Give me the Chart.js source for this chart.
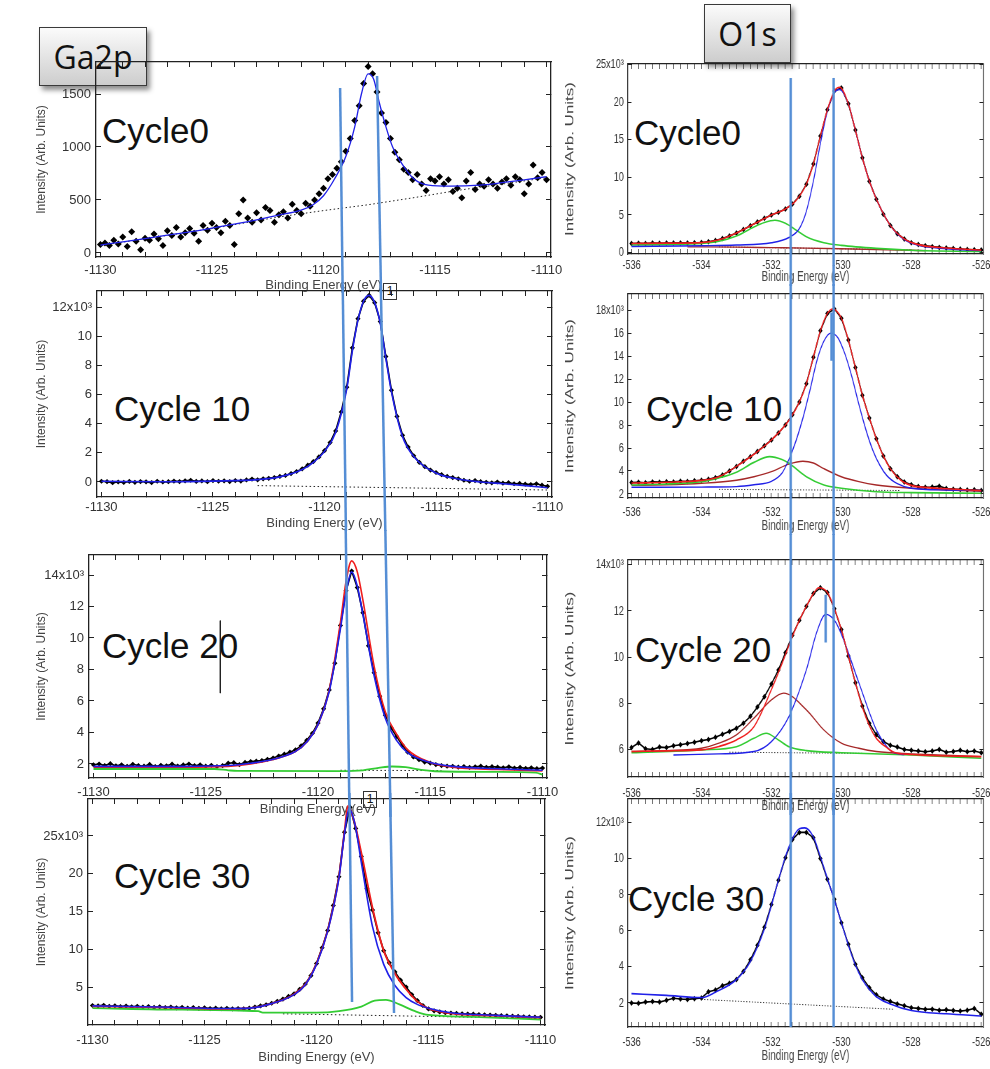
<!DOCTYPE html>
<html>
<head>
<meta charset="utf-8">
<script src="https://cdn.jsdelivr.net/npm/chart.js@4.4.0/dist/chart.umd.min.js"></script>
<style>
  body { margin: 0; width: 990px; height: 1069px; background: #fff; position: relative; overflow: hidden; font-family: "Liberation Sans", Arial, sans-serif; }
  canvas { position: absolute; }
  .cycle { position: absolute; font-family: "Liberation Sans", Arial, sans-serif; font-size: 35px; line-height: 35px; color: #111; white-space: nowrap; }
  .head { position: absolute; box-sizing: border-box; border: 1.5px solid #3a3a3a; background: linear-gradient(#fbfbfb, #cdcdcd); box-shadow: 3px 4px 5px rgba(0, 0, 0, 0.45); font-family: "Open Sans", sans-serif; font-size: 32px; color: #111; display: flex; align-items: center; justify-content: center; }
  .tag { position: absolute; box-sizing: border-box; width: 14px; height: 17px; border: 1px solid #333; background: #fff; font-size: 12px; line-height: 15px; text-align: center; color: #111; }
</style>
</head>
<body>
<div class="head" style="left:39px;top:27px;width:108px;height:59px;">Ga2p</div>
<div class="head" style="left:704px;top:4px;width:87px;height:59px;">O1s</div>

<div class="cycle" style="left:102px;top:113px;">Cycle0</div>
<div class="cycle" style="left:114px;top:391px;">Cycle 10</div>
<div class="cycle" style="left:102px;top:628px;">Cycle 20</div>
<div class="cycle" style="left:114px;top:858px;">Cycle 30</div>
<div class="cycle" style="left:634px;top:115px;">Cycle0</div>
<div class="cycle" style="left:646px;top:391px;">Cycle 10</div>
<div class="cycle" style="left:635px;top:632px;">Cycle 20</div>
<div class="cycle" style="left:628px;top:881px;">Cycle 30</div>

<div class="tag" style="left:383px;top:283px;">1</div>
<div class="tag" style="left:363px;top:791px;">1</div>

<script>
Chart.defaults.font.family = '"Liberation Sans", Arial, sans-serif';

// ---- Ga2p, binding energy -1130 .. -1110 eV ----
const GA_START = -1130;
const GA_STEP_C0 = 0.2;
const GA_STEP = 0.25;
const gaXLabels = [-1130, -1125, -1120, -1115, -1110];

const gaC0Counts = [
  80, 95, 70, 120, 85, 150, 60, 200, 110, 30,
  140, 120, 180, 135, 70, 210, 165, 240, 150, 190,
  230, 185, 110, 260, 215, 280, 240, 190, 300, 260,
  80, 370, 500, 330, 290, 380, 310, 430, 400, 290,
  360, 390, 330, 460, 400, 370, 470, 440, 500, 560,
  610, 700, 740, 800, 860, 960, 1080, 1250, 1390, 1600,
  1760, 1690, 1520, 1320, 1230, 1080, 950, 880, 790, 760,
  690, 740, 650, 590, 700, 680, 720, 650, 690, 580,
  610, 520, 680, 760, 600, 650, 630, 690, 650, 610,
  670, 700, 640, 720, 690, 560, 650, 830, 710, 760,
  690,
];
const gaC0Fit = [[-1130, 75], [-1129, 105], [-1128, 136], [-1127, 168], [-1126, 199], [-1125, 235], [-1124, 272], [-1123, 312], [-1122, 357], [-1121, 404], [-1120.5, 450], [-1120, 540], [-1119.5, 700], [-1119, 910], [-1118.6, 1190], [-1118.3, 1500], [-1118, 1690], [-1117.75, 1640], [-1117.5, 1420], [-1117.2, 1190], [-1116.9, 1000], [-1116.4, 815], [-1115.9, 690], [-1115.3, 640], [-1114.3, 630], [-1113, 640], [-1112, 663], [-1111, 690], [-1110, 720]];
const gaC0Base = [[-1130, 70], [-1125, 230], [-1122, 340], [-1120, 400], [-1118, 455], [-1116, 520], [-1114, 590], [-1112, 650], [-1110, 710]];
const gaC0YTicks = [0, 500, 1000, 1500];

const gaC10Counts = [
  0.05, 0.02, -0.05, 0.00, -0.03, 0.04, -0.02, 0.03, 0.01, -0.04,
  0.05, 0.00, 0.02, 0.06, 0.03, 0.08, 0.12, 0.04, 0.07, 0.02,
  0.10, 0.05, 0.08, 0.03, 0.10, 0.06, 0.14, 0.20, 0.15, 0.22,
  0.25, 0.30, 0.38, 0.45, 0.58, 0.72, 0.90, 1.15, 1.40, 1.72,
  2.15, 2.70, 3.50, 4.80, 6.50, 9.20, 11.20, 12.40, 12.80, 12.30,
  11.00, 8.60, 6.30, 4.50, 3.20, 2.40, 1.80, 1.35, 1.05, 0.82,
  0.65, 0.50, 0.38, 0.30, 0.22, 0.12, 0.05, 0.10, 0.02, -0.02,
  -0.06, 0.00, -0.08, -0.05, -0.12, -0.10, -0.15, -0.18, -0.12, -0.22,
  -0.30,
];
const gaC10Fit = [[-1130, 0.05], [-1127, 0.02], [-1125, 0.06], [-1123, 0.16], [-1122, 0.35], [-1121, 0.85], [-1120.5, 1.35], [-1120, 2.1], [-1119.5, 3.4], [-1119, 6.4], [-1118.75, 9.0], [-1118.5, 11.1], [-1118.25, 12.4], [-1118, 12.8], [-1117.75, 12.3], [-1117.5, 10.9], [-1117.25, 8.5], [-1117, 6.2], [-1116.5, 3.1], [-1116, 1.75], [-1115, 0.62], [-1114, 0.2], [-1113, 0.0], [-1112, -0.12], [-1111, -0.25], [-1110, -0.4]];
const gaC10Base = [[-1123, -0.25], [-1110, -0.55]];
const gaC10YTicks = [0, 2, 4, 6, 8, 10, 12];

const gaC20Counts = [
  1.95, 2.00, 1.90, 2.02, 1.88, 1.95, 1.85, 1.98, 1.90, 1.86,
  1.97, 1.84, 1.92, 1.88, 1.99, 1.87, 1.94, 2.00, 1.89, 1.95,
  1.86, 1.92, 1.84, 1.90, 2.05, 2.08, 1.96, 2.10, 2.15, 2.18,
  2.22, 2.30, 2.38, 2.50, 2.62, 2.75, 2.90, 3.15, 3.50, 3.95,
  4.60, 5.50, 6.70, 8.40, 10.80, 13.00, 14.25, 13.20, 11.60, 9.50,
  7.80, 6.30, 5.10, 4.30, 3.75, 3.20, 2.75, 2.45, 2.27, 2.12,
  2.06, 1.96, 1.90, 1.86, 1.85, 1.80, 1.84, 1.78, 1.82, 1.86,
  1.79, 1.83, 1.80, 1.76, 1.82, 1.74, 1.78, 1.72, 1.76, 1.70,
  1.74,
];
const gaC20Blue = [[-1130, 1.85], [-1126, 1.85], [-1124, 1.9], [-1123, 2.05], [-1122, 2.3], [-1121, 2.8], [-1120.5, 3.4], [-1120, 4.5], [-1119.5, 6.6], [-1119, 10.6], [-1118.75, 12.9], [-1118.5, 14.2], [-1118.25, 13.3], [-1118, 11.5], [-1117.5, 7.6], [-1117, 4.9], [-1116.5, 3.5], [-1116, 2.7], [-1115, 2.1], [-1114, 1.85], [-1112, 1.7], [-1110, 1.6]];
const gaC20Red = [[-1130, 1.8], [-1126, 1.8], [-1124, 1.85], [-1123, 2.0], [-1122, 2.28], [-1121, 2.8], [-1120.5, 3.4], [-1120, 4.5], [-1119.5, 6.7], [-1119, 11.0], [-1118.75, 13.6], [-1118.5, 14.9], [-1118.25, 14.2], [-1118, 12.4], [-1117.5, 8.2], [-1117, 5.3], [-1116.5, 3.9], [-1116, 2.9], [-1115, 2.1], [-1114, 1.8], [-1112, 1.65], [-1110, 1.55]];
const gaC20Green = [[-1130, 1.68], [-1124.6, 1.68], [-1124, 1.6], [-1123.6, 1.56], [-1119, 1.55], [-1118, 1.6], [-1117.3, 1.75], [-1116.7, 1.84], [-1116.1, 1.8], [-1115.4, 1.62], [-1114.8, 1.54], [-1112, 1.5], [-1110.3, 1.45], [-1110, 1.32]];
const gaC20Base = [[-1119, 1.6], [-1114.5, 1.58]];
const gaC20Cursor = [[-1124.35, 11.1], [-1124.35, 6.5]];
const gaC20YTicks = [2, 4, 6, 8, 10, 12, 14];

const gaC30Counts = [
  2.55, 2.50, 2.58, 2.45, 2.52, 2.40, 2.48, 2.38, 2.45, 2.35,
  2.42, 2.30, 2.38, 2.28, 2.35, 2.25, 2.30, 2.22, 2.28, 2.18,
  2.25, 2.15, 2.20, 2.12, 2.18, 2.10, 2.15, 2.12, 2.20, 2.35,
  2.50, 2.65, 2.85, 3.10, 3.40, 3.75, 4.10, 4.70, 5.40, 6.50,
  8.10, 10.20, 12.50, 15.80, 19.60, 25.50, 28.80, 26.00, 22.30, 18.00,
  15.20, 12.20, 9.80, 8.20, 7.00, 5.90, 5.00, 4.00, 3.20, 2.55,
  2.10, 1.85, 1.70, 1.60, 1.55, 1.50, 1.45, 1.42, 1.40, 1.35,
  1.32, 1.28, 1.25, 1.20, 1.18, 1.14, 1.10, 1.06, 1.04, 1.00,
  0.98,
];
const gaC30Blue = [[-1130, 2.5], [-1127, 2.35], [-1124, 2.15], [-1123, 2.2], [-1122, 2.8], [-1121, 4.0], [-1120.5, 5.3], [-1120, 8.0], [-1119.5, 12.4], [-1119, 19.4], [-1118.75, 25.3], [-1118.55, 28.6], [-1118.3, 26.8], [-1118, 21.5], [-1117.5, 13.0], [-1117, 8.0], [-1116.5, 5.2], [-1116, 3.6], [-1115.5, 2.7], [-1115, 2.2], [-1114, 1.6], [-1112, 1.25], [-1110, 1.0]];
const gaC30Red = [[-1130, 2.45], [-1127, 2.3], [-1124, 2.1], [-1123, 2.2], [-1122, 2.8], [-1121, 4.05], [-1120.5, 5.35], [-1120, 8.1], [-1119.5, 12.5], [-1119, 19.6], [-1118.75, 25.6], [-1118.6, 29.0], [-1118.35, 27.3], [-1118, 22.8], [-1117.5, 15.5], [-1117, 9.8], [-1116.5, 6.8], [-1116, 4.7], [-1115.5, 3.1], [-1115, 2.15], [-1114, 1.5], [-1112, 1.2], [-1110, 0.95]];
const gaC30Green = [[-1130, 2.2], [-1126, 2.0], [-1122.6, 1.8], [-1122.4, 1.62], [-1120, 1.6], [-1119, 1.8], [-1118, 2.4], [-1117.4, 3.2], [-1116.9, 3.3], [-1116.3, 2.7], [-1115.6, 1.8], [-1115, 1.3], [-1113, 1.05], [-1110, 0.7]];
const gaC30Base = [[-1121.5, 1.45], [-1110, 0.85]];
const gaC30YTicks = [5, 10, 15, 20, 25];

// ---- O1s, binding energy -536 .. -526 eV ----
const O_START = -536;
const O_STEP = 0.2;
const oXLabels = [-536, -534, -532, -530, -528, -526];

const oC0Counts = [
  1.20, 1.22, 1.20, 1.25, 1.23, 1.26, 1.25, 1.28, 1.28, 1.30,
  1.33, 1.42, 1.60, 1.85, 2.20, 2.60, 3.05, 3.55, 4.05, 4.55,
  5.00, 5.35, 5.80, 6.45, 7.50, 9.10, 11.80, 15.50, 19.00, 21.50,
  21.90, 19.80, 16.30, 12.60, 9.50, 7.10, 5.10, 3.60, 2.50, 1.80,
  1.30, 1.05, 0.90, 0.78, 0.68, 0.60, 0.52, 0.45, 0.40, 0.36,
  0.32,
];
const oC0Red = [[-536, 1.2], [-535, 1.25], [-534, 1.32], [-533.5, 1.7], [-533, 2.6], [-532.5, 3.8], [-532, 5.0], [-531.6, 5.8], [-531.3, 6.9], [-531, 9.1], [-530.8, 11.8], [-530.6, 15.5], [-530.4, 19.0], [-530.2, 21.5], [-530.05, 22.0], [-529.8, 19.8], [-529.6, 16.3], [-529.4, 12.6], [-529.2, 9.5], [-529, 7.1], [-528.6, 3.6], [-528.2, 1.8], [-527.8, 1.05], [-527, 0.6], [-526, 0.32]];
const oC0Blue = [[-536, 0.8], [-534, 0.9], [-533, 1.0], [-532, 1.3], [-531.5, 2.0], [-531.2, 3.2], [-531, 5.5], [-530.8, 9.5], [-530.6, 14.5], [-530.4, 18.8], [-530.2, 21.3], [-530.05, 21.7], [-529.8, 19.8], [-529.6, 16.3], [-529.4, 12.6], [-529.2, 9.5], [-529, 7.1], [-528.6, 3.6], [-528.2, 1.7], [-527.8, 0.95], [-527, 0.5], [-526, 0.25]];
const oC0Green = [[-536, 1.0], [-535, 1.05], [-534, 1.2], [-533.5, 1.5], [-533, 2.2], [-532.5, 3.4], [-532.2, 4.0], [-531.9, 4.3], [-531.6, 3.9], [-531.3, 3.0], [-531, 2.1], [-530.5, 1.3], [-530, 0.95], [-529, 0.55], [-528, 0.3], [-526, 0.13]];
const oC0Brown = [[-534.4, 0.75], [-533, 0.72], [-532, 0.65], [-531, 0.58], [-530, 0.5], [-529, 0.4], [-528, 0.3], [-527.6, 0.25]];
const oC0Base = [[-533.5, 0.75], [-528, 0.35]];
const oC0YTicks = [0, 5, 10, 15, 20, 25];

const oC10Counts = [
  3.00, 3.02, 2.98, 3.05, 3.03, 3.07, 3.05, 3.10, 3.08, 3.15,
  3.20, 3.28, 3.42, 3.65, 4.00, 4.40, 4.85, 5.25, 5.70, 6.20,
  6.70, 7.30, 8.00, 8.90, 10.00, 11.60, 13.90, 16.20, 17.70, 18.10,
  17.30, 15.40, 13.00, 10.60, 8.60, 6.80, 5.30, 4.20, 3.50, 3.05,
  2.80, 2.65, 2.58, 2.60, 2.68, 2.48, 2.42, 2.38, 2.35, 2.36,
  2.30,
];
const oC10Red = [[-536, 2.95], [-535, 3.02], [-534, 3.18], [-533.5, 3.5], [-533, 4.4], [-532.5, 5.45], [-532, 6.7], [-531.5, 8.4], [-531.2, 10.0], [-531, 11.6], [-530.8, 13.9], [-530.6, 16.2], [-530.4, 17.7], [-530.25, 18.1], [-530, 17.3], [-529.8, 15.4], [-529.6, 13.0], [-529.4, 10.6], [-529.2, 8.6], [-529, 6.8], [-528.8, 5.3], [-528.6, 4.2], [-528.3, 3.2], [-528, 2.75], [-527.5, 2.55], [-527, 2.45], [-526, 2.3]];
const oC10Blue = [[-536, 2.58], [-534, 2.6], [-533, 2.64], [-532.5, 2.8], [-532, 3.1], [-531.7, 3.8], [-531.5, 5.0], [-531.3, 6.6], [-531.1, 8.6], [-530.9, 11.0], [-530.7, 13.6], [-530.5, 15.3], [-530.3, 16.0], [-530.1, 15.6], [-529.9, 14.2], [-529.7, 12.2], [-529.5, 9.8], [-529.3, 7.6], [-529.1, 5.8], [-528.9, 4.5], [-528.7, 3.6], [-528.4, 2.9], [-528, 2.5], [-527, 2.35], [-526, 2.3]];
const oC10Green = [[-536, 2.78], [-535, 2.87], [-534, 3.07], [-533.5, 3.4], [-533, 3.9], [-532.5, 4.75], [-532.05, 5.25], [-531.7, 5.0], [-531.5, 4.67], [-531, 3.5], [-530.5, 2.78], [-530, 2.5], [-529, 2.2], [-528, 2.12], [-526, 2.06]];
const oC10Brown = [[-536, 2.75], [-535, 2.8], [-534, 2.93], [-533, 3.2], [-532.5, 3.5], [-532, 3.94], [-531.5, 4.6], [-531.1, 4.85], [-530.8, 4.7], [-530.5, 4.2], [-530, 3.5], [-529.5, 3.07], [-529, 2.78], [-528, 2.5], [-527, 2.35], [-526, 2.23]];
const oC10Base = [[-533.5, 2.4], [-528.3, 2.3]];
const oC10Cursor = [[-530.28, 17.8], [-530.28, 13.6]];
const oC10YTicks = [2, 4, 6, 8, 10, 12, 14, 16, 18];

const oC20Counts = [
  6.10, 6.30, 6.05, 6.02, 6.12, 6.10, 6.18, 6.22, 6.28, 6.33,
  6.40, 6.45, 6.55, 6.68, 6.80, 6.94, 7.15, 7.45, 7.85, 8.30,
  8.85, 9.45, 10.20, 10.95, 11.60, 12.20, 12.75, 13.00, 12.80, 12.10,
  11.20, 10.05, 8.90, 7.90, 7.15, 6.65, 6.36, 6.20, 6.12, 6.02,
  5.98, 5.95, 5.92, 5.95, 6.02, 5.90, 5.93, 5.98, 5.92, 5.95,
  5.88,
];
const oC20Red = [[-536, 5.93], [-535, 5.96], [-534, 6.0], [-533.5, 6.15], [-533, 6.43], [-532.5, 7.0], [-532, 8.6], [-531.6, 10.1], [-531.4, 10.9], [-531.2, 11.6], [-531, 12.2], [-530.8, 12.75], [-530.65, 13.0], [-530.4, 12.8], [-530.2, 12.1], [-530, 11.2], [-529.8, 10.05], [-529.6, 8.9], [-529.4, 7.85], [-529.2, 7.05], [-529, 6.5], [-528.7, 6.1], [-528.5, 5.9], [-528, 5.8], [-527, 5.74], [-526, 5.71]];
const oC20Blue = [[-534.8, 5.78], [-533.5, 5.83], [-532.5, 5.93], [-532, 6.36], [-531.5, 7.44], [-531, 9.46], [-530.7, 11.1], [-530.45, 11.85], [-530.2, 11.6], [-530, 11.0], [-529.5, 8.9], [-529, 6.86], [-528.7, 6.14], [-528.5, 5.88], [-528.2, 5.8]];
const oC20Brown = [[-536, 5.93], [-535, 5.97], [-534, 6.07], [-533.5, 6.29], [-533, 6.65], [-532.5, 7.37], [-532, 8.16], [-531.65, 8.45], [-531, 7.73], [-530.5, 6.86], [-530, 6.29], [-529.5, 6.07], [-529, 5.93], [-528, 5.83], [-526, 5.71]];
const oC20Green = [[-536, 5.88], [-534, 6.0], [-533, 6.14], [-532.5, 6.5], [-532.15, 6.72], [-531.8, 6.43], [-531.5, 6.14], [-531, 5.97], [-530, 5.88], [-528, 5.78], [-526, 5.64]];
const oC20Base = [[-533.2, 5.9], [-529.4, 5.85]];
const oC20Cursor = [[-530.45, 12.7], [-530.45, 10.64]];
const oC20YTicks = [6, 8, 10, 12, 14];

const oC30Counts = [
  2.00, 1.98, 2.05, 2.08, 2.05, 2.15, 2.26, 2.22, 2.20, 2.24,
  2.28, 2.62, 2.72, 2.95, 3.10, 3.30, 3.75, 4.40, 5.20, 6.20,
  7.45, 8.80, 10.05, 11.05, 11.45, 11.45, 11.15, 10.00, 8.85, 7.75,
  6.45, 5.25, 4.15, 3.40, 2.85, 2.45, 2.22, 2.08, 1.95, 1.85,
  1.74, 1.70, 1.65, 1.66, 1.60, 1.62, 1.58, 1.55, 1.60, 1.70,
  1.38,
];
const oC30Blue = [[-536, 2.52], [-535, 2.42], [-534, 2.3], [-533.6, 2.6], [-533, 3.3], [-532.6, 4.3], [-532.2, 6.1], [-532, 7.4], [-531.8, 8.8], [-531.6, 10.1], [-531.4, 11.1], [-531.2, 11.65], [-531.05, 11.7], [-530.8, 11.2], [-530.6, 10.1], [-530.4, 8.9], [-530.2, 7.7], [-530, 6.45], [-529.8, 5.2], [-529.6, 4.1], [-529.4, 3.3], [-529.2, 2.75], [-529, 2.35], [-528.6, 1.95], [-528, 1.58], [-527, 1.4], [-526, 1.28]];
const oC30Base = [[-534, 2.2], [-528.5, 1.65]];
const oC30YTicks = [2, 4, 6, 8, 10, 12];

// blue guide lines: energy where each line meets the top and the bottom of a frame
const gaGuideA = [[-1119.27, -1119.16], [-1119.18, -1119.06], [-1118.75, -1118.62], [-1118.53, -1118.40]];
const gaGuideB = [[-1117.61, -1117.45], [-1117.47, -1117.30], [-1116.98, -1116.80], [-1116.71, -1116.53]];
const oGuides = [-531.45, -530.22];

const BLUE = "#2020e8";
const RED = "#f01e1e";
const GREEN = "#33cc33";
const BROWN = "#a52828";
const GUIDE = "#558ed5";

function series(start, step, values) {
  return values.map((v, i) => ({ x: +(start + i * step).toFixed(2), y: v }));
}

function pairs(list) {
  return list.map(([x, y]) => ({ x, y }));
}

// scattered counts, markers only
function markers(data, r) {
  return { data, showLine: false, pointStyle: "rectRot", pointRadius: r, pointBackgroundColor: "#000", pointBorderWidth: 0, order: 2 };
}

// dense counts: markers joined by a thin black trace
function trace(data, r) {
  return { data, showLine: true, borderColor: "#000", borderWidth: 1.6, pointStyle: "rectRot", pointRadius: r, pointBackgroundColor: "#000", pointBorderWidth: 0, order: 2 };
}

function curve(list, color, width) {
  return { data: pairs(list), showLine: true, pointRadius: 0, borderColor: color, borderWidth: width || 1.4, cubicInterpolationMode: "monotone", order: 1 };
}

function dotted(list) {
  return { data: pairs(list), showLine: true, pointRadius: 0, borderColor: "#222", borderWidth: 1, borderDash: [1.5, 2.5], order: 1 };
}

function cursor(list, color, width) {
  return { data: pairs(list), showLine: true, pointRadius: 0, borderColor: color, borderWidth: width, tension: 0, order: 0 };
}

function tickList(from, to, step) {
  const out = [];
  for (let v = from; v <= to + 1e-9; v += step) out.push(Math.round(v * 100) / 100);
  return out;
}

const guidePlugin = {
  id: "guides",
  afterDraw(chart, args, opts) {
    const { ctx, chartArea: a, scales } = chart;
    const x = scales.x;
    const y = scales.y;
    ctx.save();
    ctx.strokeStyle = opts.color;
    ctx.lineWidth = opts.width;
    (opts.lines || []).forEach((g) => {
      const xt = x.getPixelForValue(g.at[0]);
      const xb = x.getPixelForValue(g.at[1]);
      const k = (xb - xt) / (a.bottom - a.top);
      const y0 = g.from != null ? y.getPixelForValue(g.from) : 0;
      const y1 = g.to != null ? y.getPixelForValue(g.to) : chart.height;
      ctx.beginPath();
      ctx.moveTo(xt + (y0 - a.top) * k, y0);
      ctx.lineTo(xt + (y1 - a.top) * k, y1);
      ctx.stroke();
    });
    ctx.restore();
  },
};

const LEFT = { left: 30, width: 540, squeeze: 1, tickSize: 13, xTitleSize: 13, yTitleSize: 12, guideWidth: 2.5, xTicks: tickList(-1130, -1110, 1), xLabels: gaXLabels, xMin: -1130.2, xMax: -1109.8 };
const RIGHT = { left: 560, width: 620, squeeze: 0.7, tickSize: 13, xTitleSize: 14, yTitleSize: 17, guideWidth: 3.5, xTicks: tickList(-536, -526, 0.2), xLabels: oXLabels, xMin: -536.1, xMax: -525.95 };

function drawPanel(p) {
  const col = p.col;
  const cv = document.createElement("canvas");
  const h = p.bottom - p.top;
  cv.width = col.width;
  cv.height = h;
  cv.style.left = col.left + "px";
  cv.style.top = p.top + "px";
  cv.style.width = col.width + "px";
  cv.style.height = h + "px";
  if (col.squeeze !== 1) {
    cv.style.transform = "scaleX(" + col.squeeze + ")";
    cv.style.transformOrigin = "0 0";
  }
  document.body.appendChild(cv);

  const yW = (p.plotL - col.left) / col.squeeze;
  const rW = col.width - (p.plotR - col.left) / col.squeeze;
  const topH = p.plotT - p.top;
  const botH = p.bottom - p.plotB;
  const xPad = p.labelY - p.plotB + 5 - (col.tickSize * 1.2) / 2;
  const yTop = p.yTicks[p.yTicks.length - 1];

  const fit = (size) => (s) => {
    if (s.isHorizontal()) s.height = size;
    else s.width = size;
    s.paddingTop = s.paddingBottom = s.paddingLeft = s.paddingRight = 0;
  };
  const setTicks = (list) => (s) => {
    s.ticks = list.map((value) => ({ value }));
  };
  const grid = { drawOnChartArea: false, tickLength: -5, color: "#222", tickWidth: 1 };
  const border = { color: "#222", width: 1.3 };

  new Chart(cv, {
    type: "scatter",
    data: { datasets: p.datasets },
    options: {
      responsive: false,
      maintainAspectRatio: false,
      devicePixelRatio: 1,
      animation: false,
      layout: { padding: 0 },
      plugins: {
        legend: { display: false },
        tooltip: { enabled: false },
        guides: { lines: p.guides, color: GUIDE, width: col.guideWidth },
      },
      scales: {
        x: {
          type: "linear", position: "bottom", min: col.xMin, max: col.xMax,
          afterBuildTicks: setTicks(col.xTicks), afterFit: fit(botH),
          grid, border,
          ticks: {
            autoSkip: false, maxRotation: 0, padding: xPad, color: "#333",
            font: { size: col.tickSize },
            callback: (v) => (col.xLabels.includes(v) ? String(v) : ""),
          },
          title: { display: true, text: "Binding Energy (eV)", color: "#444", font: { size: col.xTitleSize }, padding: 0 },
        },
        x2: {
          type: "linear", position: "top", min: col.xMin, max: col.xMax,
          afterBuildTicks: setTicks(col.xTicks), afterFit: fit(topH),
          grid, border, ticks: { display: false, autoSkip: false },
        },
        y: {
          type: "linear", position: "left", min: p.yMin, max: p.yMax,
          afterBuildTicks: setTicks(p.yTicks), afterFit: fit(yW),
          grid, border,
          ticks: {
            autoSkip: false, padding: p.yPad || 10, color: "#333",
            font: { size: col.tickSize },
            callback: (v) => (v === yTop && p.sci ? v + "x10³" : String(v)),
          },
          title: { display: true, text: "Intensity (Arb. Units)", color: "#444", font: { size: col.yTitleSize }, padding: { top: 4, bottom: 0 } },
        },
        y2: {
          type: "linear", position: "right", min: p.yMin, max: p.yMax,
          afterBuildTicks: setTicks(p.yTicks), afterFit: fit(rW),
          grid, border, ticks: { display: false, autoSkip: false },
        },
      },
    },
    plugins: [guidePlugin],
  });
}

// ---- Ga2p column ----
drawPanel({
  col: LEFT, top: 56, bottom: 293, plotL: 96, plotR: 551, plotT: 62, plotB: 257, labelY: 270,
  yMin: -38, yMax: 1802, yTicks: gaC0YTicks, sci: false,
  guides: [{ at: gaGuideA[0], from: 1557 }, { at: gaGuideB[0], from: 1670 }],
  datasets: [
    curve(gaC0Fit, BLUE, 1.3),
    dotted(gaC0Base),
    markers(series(GA_START, GA_STEP_C0, gaC0Counts), 3.5),
  ],
});

drawPanel({
  col: LEFT, top: 285, bottom: 531, plotL: 97, plotR: 552, plotT: 291, plotB: 497, labelY: 507,
  yMin: -1.03, yMax: 13.1, yTicks: gaC10YTicks, sci: true,
  guides: [{ at: gaGuideA[1] }, { at: gaGuideB[1] }],
  datasets: [
    curve(gaC10Fit, BLUE, 1.6),
    dotted(gaC10Base),
    trace(series(GA_START, GA_STEP, gaC10Counts), 2.6),
  ],
});

drawPanel({
  col: LEFT, top: 530, bottom: 817, plotL: 89, plotR: 547, plotT: 555, plotB: 778, labelY: 792,
  yMin: 1.11, yMax: 15.27, yTicks: gaC20YTicks, sci: true,
  guides: [{ at: gaGuideA[2] }, { at: gaGuideB[2] }],
  datasets: [
    cursor(gaC20Cursor, "#222", 1),
    curve(gaC20Blue, BLUE, 1.6),
    curve(gaC20Red, RED, 1.6),
    curve(gaC20Green, GREEN, 1.8),
    dotted(gaC20Base),
    trace(series(GA_START, GA_STEP, gaC20Counts), 2.6),
  ],
});

drawPanel({
  col: LEFT, top: 793, bottom: 1065, plotL: 88, plotR: 545, plotT: 799, plotB: 1025, labelY: 1040,
  yMin: -0.03, yMax: 29.9, yTicks: gaC30YTicks, sci: true,
  guides: [{ at: gaGuideA[3], to: 3.02 }, { at: gaGuideB[3], to: 1.57 }],
  datasets: [
    curve(gaC30Blue, BLUE, 1.6),
    curve(gaC30Red, RED, 1.8),
    curve(gaC30Green, GREEN, 1.8),
    dotted(gaC30Base),
    trace(series(GA_START, GA_STEP, gaC30Counts), 2.6),
  ],
});

// ---- O1s column ----
const oGuideLines = (from, to) => oGuides.map((e) => ({ at: [e, e], from, to }));

drawPanel({
  col: RIGHT, top: 58, bottom: 286, plotL: 628, plotR: 983, plotT: 64, plotB: 254, labelY: 265,
  yMin: -0.2, yMax: 25.1, yTicks: oC0YTicks, sci: true, yPad: 11,
  guides: oGuideLines(23.24),
  datasets: [
    curve(oC0Red, RED, 1.6),
    curve(oC0Blue, BLUE, 1.4),
    curve(oC0Green, GREEN, 1.6),
    curve(oC0Brown, BROWN, 1.4),
    dotted(oC0Base),
    trace(series(O_START, O_STEP, oC0Counts), 3),
  ],
});

drawPanel({
  col: RIGHT, top: 284, bottom: 535, plotL: 628, plotR: 983, plotT: 294, plotB: 498, labelY: 512,
  yMin: 1.65, yMax: 19.4, yTicks: oC10YTicks, sci: true, yPad: 11,
  guides: oGuideLines(),
  datasets: [
    cursor(oC10Cursor, GUIDE, 3.5),
    curve(oC10Red, RED, 1.6),
    curve(oC10Blue, BLUE, 1.4),
    curve(oC10Green, GREEN, 1.6),
    curve(oC10Brown, BROWN, 1.4),
    dotted(oC10Base),
    trace(series(O_START, O_STEP, oC10Counts), 3),
  ],
});

drawPanel({
  col: RIGHT, top: 534, bottom: 815, plotL: 628, plotR: 983, plotT: 560, plotB: 777, labelY: 793,
  yMin: 4.83, yMax: 14.2, yTicks: oC20YTicks, sci: true, yPad: 11,
  guides: oGuideLines(),
  datasets: [
    cursor(oC20Cursor, GUIDE, 3.5),
    curve(oC20Red, RED, 1.6),
    curve(oC20Blue, BLUE, 1.4),
    curve(oC20Brown, BROWN, 1.4),
    curve(oC20Green, GREEN, 1.6),
    dotted(oC20Base),
    trace(series(O_START, O_STEP, oC20Counts), 3),
  ],
});

drawPanel({
  col: RIGHT, top: 793, bottom: 1065, plotL: 628, plotR: 983, plotT: 799, plotB: 1027, labelY: 1042,
  yMin: 0.67, yMax: 13.3, yTicks: oC30YTicks, sci: true, yPad: 11,
  guides: oGuideLines(null, 0.67),
  datasets: [
    curve(oC30Blue, BLUE, 1.6),
    dotted(oC30Base),
    trace(series(O_START, O_STEP, oC30Counts), 3),
  ],
});
</script>
</body>
</html>
